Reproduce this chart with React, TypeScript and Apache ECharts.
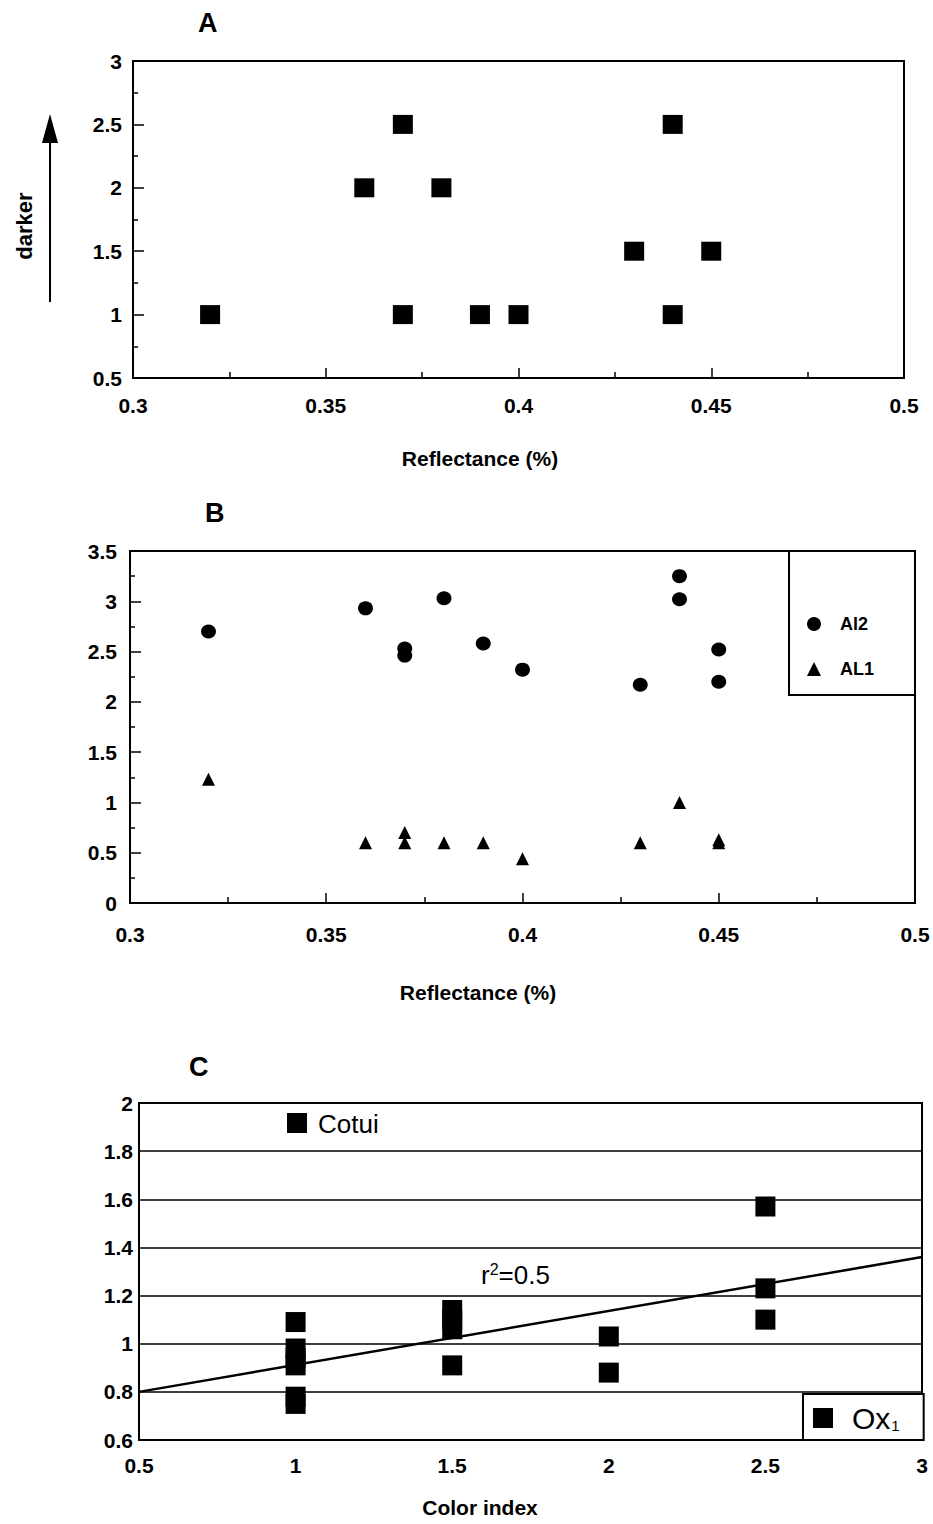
import React, { useEffect, useRef } from "react";
import * as echarts from "echarts";

// ---------- Data ----------
// Panel A: colour index vs reflectance
const aReflectance = [0.32, 0.36, 0.37, 0.37, 0.38, 0.39, 0.4, 0.43, 0.44, 0.44, 0.45];
const aDarkness = [1, 2, 2.5, 1, 2, 1, 1, 1.5, 2.5, 1, 1.5];

// Panel B: Al2 and AL1 vs reflectance
const al2Reflectance = [0.32, 0.36, 0.37, 0.37, 0.38, 0.39, 0.4, 0.43, 0.44, 0.44, 0.45, 0.45];
const al2Values = [2.7, 2.93, 2.53, 2.46, 3.03, 2.58, 2.32, 2.17, 3.25, 3.02, 2.52, 2.2];
const al1Reflectance = [0.32, 0.36, 0.37, 0.37, 0.38, 0.39, 0.4, 0.43, 0.44, 0.45, 0.45];
const al1Values = [1.23, 0.6, 0.7, 0.6, 0.6, 0.6, 0.44, 0.6, 1.0, 0.6, 0.63];

// Panel C: Ox1 vs colour index
const cColorIndex = [1, 1, 1, 1, 1, 1, 1.5, 1.5, 1.5, 1.5, 2, 2, 2.5, 2.5, 2.5];
const cOx1 = [1.09, 0.98, 0.94, 0.91, 0.78, 0.75, 1.14, 1.1, 1.06, 0.91, 1.03, 0.88, 1.57, 1.23, 1.1];
const trendX = [0.5, 3];
const trendY = [0.8, 1.36];

const FONT = "'Liberation Sans', Arial, Helvetica, sans-serif";

const zip = (xs: number[], ys: number[]) => xs.map((x, i) => [x, ys[i]]);

const labelStyle = (margin: number) => ({
  color: "#000",
  fontFamily: FONT,
  fontWeight: "bold" as const,
  fontSize: 21,
  margin,
});

const refXAxis = (gridIndex: number, labelMargin: number, nameGap: number, padR: number) => ({
  type: "value",
  gridIndex,
  min: 0.3,
  max: 0.5,
  interval: 0.05,
  axisLine: { show: true, lineStyle: { color: "#000", width: 2 } },
  axisTick: { show: true, inside: true, length: 10, lineStyle: { color: "#000", width: 1.5 } },
  minorTick: { show: true, splitNumber: 2, length: 6, lineStyle: { color: "#000", width: 1.5 } },
  splitLine: { show: false },
  axisLabel: labelStyle(labelMargin),
  name: "Reflectance (%)",
  nameLocation: "middle",
  nameGap,
  nameTextStyle: {
    color: "#000",
    fontFamily: FONT,
    fontWeight: "bold",
    fontSize: 21,
    verticalAlign: "top",
    padding: [0, padR, 0, 0],
  },
});

const solid = { color: "#000", opacity: 1 };

export default function App() {
  const ref = useRef<HTMLDivElement>(null);

  useEffect(() => {
    if (!ref.current) return;
    const chart = echarts.init(ref.current, null, { renderer: "svg" });

    const option: any = {
      animation: false,
      backgroundColor: "#fff",
      grid: [
        { left: 133, top: 61, width: 771, height: 317, show: true, borderColor: "#000", borderWidth: 2 },
        { left: 130, top: 551, width: 785, height: 352, show: true, borderColor: "#000", borderWidth: 2 },
        { left: 139, top: 1103, width: 783, height: 337, show: true, borderColor: "#000", borderWidth: 2 },
      ],
      xAxis: [
        refXAxis(0, 17, 70, 77),
        refXAxis(1, 21, 79, 89),
        {
          type: "value",
          gridIndex: 2,
          min: 0.5,
          max: 3,
          interval: 0.5,
          axisLine: { show: true, lineStyle: { color: "#000", width: 2 } },
          axisTick: { show: false },
          splitLine: { show: false },
          axisLabel: labelStyle(15),
          name: "Color index",
          nameLocation: "middle",
          nameGap: 57,
          nameTextStyle: {
            color: "#000",
            fontFamily: FONT,
            fontWeight: "bold",
            fontSize: 21,
            verticalAlign: "top",
            padding: [0, 101, 0, 0],
          },
        },
      ],
      yAxis: [
        {
          type: "value",
          gridIndex: 0,
          min: 0.5,
          max: 3,
          interval: 0.5,
          axisLine: { show: true, lineStyle: { color: "#000", width: 2 } },
          axisTick: { show: true, inside: true, length: 11, lineStyle: { color: "#000", width: 1.5 } },
          minorTick: { show: true, splitNumber: 2, length: 5, lineStyle: { color: "#000", width: 1.5 } },
          splitLine: { show: false },
          axisLabel: labelStyle(11),
        },
        {
          type: "value",
          gridIndex: 1,
          min: 0,
          max: 3.5,
          interval: 0.5,
          axisLine: { show: true, lineStyle: { color: "#000", width: 2 } },
          axisTick: { show: true, inside: true, length: 11, lineStyle: { color: "#000", width: 1.5 } },
          minorTick: { show: true, splitNumber: 2, length: 5, lineStyle: { color: "#000", width: 1.5 } },
          splitLine: { show: false },
          axisLabel: labelStyle(13),
        },
        {
          type: "value",
          gridIndex: 2,
          min: 0.6,
          max: 2,
          interval: 0.2,
          axisLine: { show: true, lineStyle: { color: "#000", width: 2 } },
          axisTick: { show: false },
          splitLine: { show: true, lineStyle: { color: "#000", width: 1.6 } },
          axisLabel: labelStyle(6),
        },
      ],
      legend: [
        {
          data: ["Al2", "AL1"],
          orient: "vertical",
          left: 789,
          top: 551,
          itemWidth: 14,
          itemHeight: 14,
          itemGap: 27,
          padding: [64, 41, 17, 18],
          borderColor: "#000",
          borderWidth: 2,
          backgroundColor: "#fff",
          selectedMode: false,
          textStyle: {
            color: "#000",
            fontFamily: FONT,
            fontWeight: "bold",
            fontSize: 18,
            padding: [0, 0, 0, 14],
            width: 40,
          },
        },
        {
          data: ["Ox1"],
          orient: "vertical",
          left: 803,
          top: 1394,
          itemWidth: 20,
          itemHeight: 20,
          padding: [9, 24, 7, 10],
          borderColor: "#000",
          borderWidth: 2,
          backgroundColor: "#fff",
          selectedMode: false,
          formatter: () => "{a|Ox}{b|1}",
          textStyle: {
            color: "#000",
            fontFamily: FONT,
            padding: [0, 0, 0, 14],
            rich: {
              a: { fontSize: 30, fontFamily: FONT, color: "#000", lineHeight: 30 },
              b: { fontSize: 15, fontFamily: FONT, color: "#000", lineHeight: 30, verticalAlign: "bottom", padding: [0, 0, 0, 1] },
            },
          },
        },
      ],
      series: [
        {
          name: "A",
          type: "scatter",
          xAxisIndex: 0,
          yAxisIndex: 0,
          symbol: "rect",
          symbolSize: [20, 19],
          itemStyle: solid,
          data: zip(aReflectance, aDarkness),
        },
        {
          name: "Al2",
          type: "scatter",
          xAxisIndex: 1,
          yAxisIndex: 1,
          symbol: "circle",
          symbolSize: [15, 14],
          itemStyle: solid,
          data: zip(al2Reflectance, al2Values),
        },
        {
          name: "AL1",
          type: "scatter",
          xAxisIndex: 1,
          yAxisIndex: 1,
          symbol: "triangle",
          symbolSize: [13, 13],
          itemStyle: solid,
          data: zip(al1Reflectance, al1Values),
        },
        {
          name: "trend",
          type: "line",
          xAxisIndex: 2,
          yAxisIndex: 2,
          showSymbol: false,
          symbol: "none",
          lineStyle: { color: "#000", width: 2.5 },
          data: zip(trendX, trendY),
          z: 2,
        },
        {
          name: "Ox1",
          type: "scatter",
          xAxisIndex: 2,
          yAxisIndex: 2,
          symbol: "rect",
          symbolSize: [20, 20],
          itemStyle: solid,
          data: zip(cColorIndex, cOx1),
          z: 3,
        },
      ],
      graphic: [
        { type: "text", left: 198, top: 9, style: { text: "A", fontFamily: FONT, fontWeight: "bold", fontSize: 27, fill: "#000" } },
        { type: "text", left: 205, top: 499, style: { text: "B", fontFamily: FONT, fontWeight: "bold", fontSize: 27, fill: "#000" } },
        { type: "text", left: 189, top: 1053, style: { text: "C", fontFamily: FONT, fontWeight: "bold", fontSize: 27, fill: "#000" } },
        {
          type: "text",
          x: 24,
          y: 226,
          rotation: Math.PI / 2,
          style: {
            text: "darker",
            fontFamily: FONT,
            fontWeight: "bold",
            fontSize: 22,
            fill: "#000",
            align: "center",
            verticalAlign: "middle",
          },
        },
        { type: "line", shape: { x1: 50, y1: 302, x2: 50, y2: 140 }, style: { stroke: "#000", lineWidth: 2 } },
        { type: "polygon", shape: { points: [[42, 143], [58, 143], [50, 114]] }, style: { fill: "#000" } },
        { type: "rect", shape: { x: 287, y: 1113, width: 20, height: 20 }, style: { fill: "#000" }, z: 10 },
        {
          type: "text",
          x: 318,
          y: 1124,
          z: 10,
          style: { text: "Cotui", fontFamily: FONT, fontSize: 26, fill: "#000", verticalAlign: "middle" },
        },
        {
          type: "text",
          x: 481,
          y: 1275,
          z: 10,
          style: {
            text: "{r|r}{s|2}{r|=0.5}",
            verticalAlign: "middle",
            rich: {
              r: { fontFamily: FONT, fontSize: 26, fill: "#000", color: "#000", lineHeight: 28 },
              s: { fontFamily: FONT, fontSize: 16, fill: "#000", color: "#000", lineHeight: 28, verticalAlign: "top" },
            },
          },
        },
      ],
    };

    chart.setOption(option);
    return () => chart.dispose();
  }, []);

  return (
    <div
      ref={ref}
      style={{ position: "absolute", left: 0, top: 0, width: 933, height: 1524, background: "#fff" }}
    />
  );
}
